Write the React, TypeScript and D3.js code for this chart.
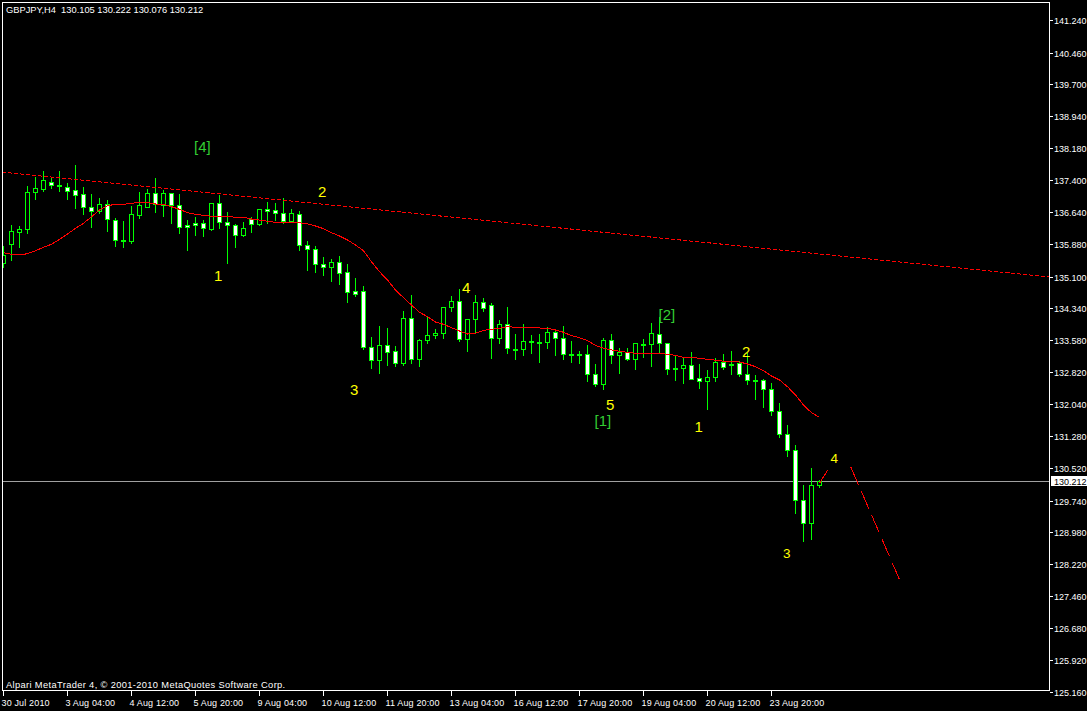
import React from "react";
import * as d3 from "d3";

// ---- Data (GBPJPY H4, bar 0 = 30 Jul 2010 20:00) ----
const opens = [
  135.42, 135.87, 136.17, 136.23, 137.12, 137.20, 137.37, 137.28, 137.25, 137.17,
  137.08, 136.77, 136.68, 136.84, 136.45, 135.98, 135.96, 136.57, 136.77, 137.09,
  136.81, 137.09, 136.81, 136.33, 136.38, 136.38, 136.24, 136.85, 136.41, 136.33,
  136.09, 136.47, 136.35, 136.71, 136.69, 136.62, 136.44, 136.59, 135.85, 135.75,
  135.39, 135.32, 135.44, 135.20, 134.75, 134.75, 133.41, 133.10, 133.46, 133.31,
  133.04, 134.10, 133.12, 133.58, 133.70, 133.74, 134.37, 134.51, 133.60, 134.08,
  134.49, 134.41, 133.62, 133.96, 133.37, 133.36, 133.56, 133.54, 133.53, 133.77,
  133.62, 133.24, 133.24, 133.24, 132.77, 132.52, 133.58, 133.22, 133.30, 133.14,
  133.49, 133.48, 133.72, 133.50, 132.91, 132.92, 132.98, 132.67, 132.59, 132.69,
  133.05, 133.01, 133.03, 132.76, 132.62, 132.62, 132.40, 131.88, 131.33, 130.94,
  129.75, 129.21, 130.105,
];
const highs = [
  135.83, 136.33, 136.31, 137.27, 137.48, 137.63, 137.48, 137.63, 137.33, 137.77,
  137.24, 137.08, 136.97, 136.93, 136.50, 136.43, 136.79, 137.12, 137.20, 137.45,
  137.17, 137.11, 137.07, 136.45, 136.53, 136.45, 136.85, 137.05, 136.64, 136.36,
  136.41, 136.53, 136.71, 136.89, 136.87, 136.98, 136.71, 136.67, 135.95, 135.83,
  135.56, 135.51, 135.59, 135.39, 135.06, 134.88, 133.66, 133.92, 133.87, 133.45,
  134.28, 134.66, 133.60, 134.13, 133.84, 134.37, 134.64, 134.80, 134.08, 134.66,
  134.58, 134.46, 134.06, 134.38, 133.73, 133.97, 133.70, 133.73, 133.89, 133.82,
  133.92, 133.57, 133.32, 133.46, 133.01, 133.62, 133.73, 133.38, 133.38, 133.50,
  133.60, 134.00, 134.13, 133.50, 133.22, 133.18, 133.30, 133.00, 132.87, 133.15,
  133.25, 133.31, 133.07, 133.27, 132.75, 132.64, 132.56, 132.07, 131.54, 131.06,
  130.11, 130.52, 130.222,
];
const lows = [
  135.33, 135.50, 135.80, 136.15, 136.95, 137.16, 137.21, 137.16, 136.95, 136.73,
  136.60, 136.29, 136.62, 136.20, 135.84, 135.80, 135.91, 136.50, 136.77, 136.65,
  136.56, 136.38, 136.14, 135.74, 136.10, 136.06, 136.22, 136.26, 135.43, 135.82,
  136.06, 136.17, 136.34, 136.38, 136.45, 136.39, 136.41, 135.74, 135.25, 135.22,
  135.13, 135.00, 134.92, 134.49, 134.64, 133.37, 132.92, 132.79, 132.99, 132.97,
  132.99, 133.04, 132.97, 133.50, 133.64, 133.64, 134.28, 133.57, 133.33, 133.74,
  134.28, 133.16, 133.52, 133.27, 133.14, 133.22, 133.28, 133.06, 133.39, 133.22,
  133.12, 133.05, 133.03, 132.59, 132.48, 132.42, 133.03, 132.80, 133.10, 132.88,
  133.18, 132.97, 133.27, 132.78, 132.63, 132.56, 132.66, 132.43, 131.94, 132.61,
  132.90, 132.76, 132.71, 132.52, 132.18, 131.99, 131.80, 131.26, 130.81, 129.44,
  128.77, 128.81, 130.076,
];
const closes = [
  135.62, 136.19, 136.23, 137.12, 137.21, 137.40, 137.28, 137.28, 137.16, 137.06,
  136.77, 136.68, 136.83, 136.47, 135.98, 135.98, 136.60, 136.81, 137.09, 136.83,
  137.09, 136.82, 136.28, 136.28, 136.33, 136.26, 136.85, 136.41, 136.34, 136.09,
  136.26, 136.35, 136.71, 136.68, 136.61, 136.44, 136.62, 135.85, 135.75, 135.39,
  135.32, 135.44, 135.18, 134.72, 134.69, 133.41, 133.10, 133.46, 133.30, 133.03,
  134.10, 133.12, 133.58, 133.70, 133.75, 134.37, 134.51, 133.60, 134.08, 134.49,
  134.34, 133.62, 133.96, 133.38, 133.37, 133.56, 133.56, 133.54, 133.77, 133.62,
  133.24, 133.24, 133.24, 132.77, 132.52, 133.58, 133.22, 133.30, 133.14, 133.50,
  133.49, 133.74, 133.50, 132.90, 132.91, 132.98, 132.66, 132.59, 132.69, 133.05,
  132.93, 133.01, 132.76, 132.62, 132.62, 132.40, 131.88, 131.33, 130.94, 129.75,
  129.21, 130.11, 130.212,
];
const maValues = [
  135.672, 135.633, 135.617, 135.648, 135.720, 135.801, 135.873, 135.992, 136.119, 136.256,
  136.375, 136.533, 136.694, 136.796, 136.830, 136.830, 136.854, 136.873, 136.873, 136.837,
  136.830, 136.773, 136.710, 136.629, 136.591, 136.567, 136.543, 136.543, 136.543, 136.519,
  136.519, 136.478, 136.454, 136.423, 136.399, 136.399, 136.399, 136.390, 136.359, 136.311,
  136.246, 136.150, 136.071, 135.976, 135.856, 135.720, 135.456, 135.217, 135.019, 134.779,
  134.595, 134.420, 134.246, 134.140, 134.014, 133.959, 133.877, 133.798, 133.726, 133.743,
  133.815, 133.839, 133.863, 133.901, 133.887, 133.887, 133.887, 133.870, 133.863, 133.822,
  133.767, 133.686, 133.638, 133.566, 133.456, 133.384, 133.344, 133.312, 133.287, 133.265,
  133.265, 133.265, 133.265, 133.241, 133.217, 133.169, 133.169, 133.145, 133.121, 133.099,
  133.076, 133.073, 133.056, 133.009, 132.944, 132.848, 132.721, 132.626, 132.465, 132.267,
  132.027, 131.843, 131.733,
];
const dateLabels = [
  "30 Jul 2010", "3 Aug 04:00", "4 Aug 12:00", "5 Aug 20:00", "9 Aug 04:00",
  "10 Aug 12:00", "11 Aug 20:00", "13 Aug 04:00", "16 Aug 12:00", "17 Aug 20:00",
  "19 Aug 04:00", "20 Aug 12:00", "23 Aug 20:00",
];
const dateLabelBars = [0, 8, 16, 24, 32, 40, 48, 56, 64, 72, 80, 88, 96];
const priceTickLabels = [
  "141.240", "140.460", "139.700", "138.940", "138.180", "137.400", "136.640",
  "135.880", "135.100", "134.340", "133.580", "132.820", "132.040", "131.280",
  "130.520", "129.740", "128.980", "128.220", "127.460", "126.680", "125.920", "125.160",
];
const currentPrice = 130.212;
const currentPriceLabel = "130.212";
const titleText = "GBPJPY,H4  130.105 130.222 130.076 130.212";
const copyrightText = "Alpari MetaTrader 4, \u00a9 2001-2010 MetaQuotes Software Corp.";

// trend line (dotted, extended both ways)
const trendBars = [0, 100];
const trendPrices = [137.596, 135.681];
// projection lines (dashed)
const projABars = [102, 103.03];
const projAPrices = [130.154, 130.472];
const projBBars = [105.93, 111.98];
const projBPrices = [130.537, 127.857];

// wave labels: text, bar position, price (baseline), colour kind
const waveLabels: [string, number, number, string][] = [
  ["[4]", 23.81, 138.08, "g"],
  ["2", 39.31, 137.0, "y"],
  ["1", 26.31, 134.99, "y"],
  ["3", 43.31, 132.27, "y"],
  ["4", 57.31, 134.71, "y"],
  ["5", 75.31, 131.91, "y"],
  ["[1]", 73.88, 131.52, "g"],
  ["[2]", 81.88, 134.06, "g"],
  ["2", 92.31, 133.18, "y"],
  ["1", 86.38, 131.39, "y"],
  ["4", 103.38, 130.65, "y"],
  ["3", 97.44, 128.37, "y"],
];

const W = 1087;
const H = 711;
const FL = 2.5, FT = 2.5, FR = 1049.5, FB = 690.5;
const LIME = "#00ff00";
const FONT = "'Liberation Sans', Arial, sans-serif";

export default function App() {
  const x = d3.scaleLinear().domain([0, 1]).range([3.5, 11.5]);
  const y = d3.scaleLinear().domain([125.16, 141.24]).range([692, 20]);
  const ry = (p: number) => Math.round(y(p));

  const candles = opens.map((o, i) => {
    const c = closes[i];
    const cx = x(i);
    const top = ry(Math.max(o, c));
    let bot = ry(Math.min(o, c));
    if (bot - top < 1) bot = top + 1;
    const wt = ry(highs[i]);
    const wb = ry(lows[i]);
    const bull = c > o;
    return (
      <g key={i}>
        <rect x={cx - 0.5} y={wt} width={1} height={Math.max(1, wb - wt + 1)} fill={LIME} />
        <rect
          x={cx - 2}
          y={top + 0.5}
          width={4}
          height={bot - top}
          fill={bull ? "#000000" : "#ffffff"}
          stroke={LIME}
          strokeWidth={1}
        />
      </g>
    );
  });

  const maPath = d3
    .line<number>()
    .x((_, i) => x(i))
    .y((d) => y(d))(maValues) as string;

  const trendAt = (b: number) =>
    trendPrices[0] + ((trendPrices[1] - trendPrices[0]) * (b - trendBars[0])) / (trendBars[1] - trendBars[0]);
  const tb0 = x.invert(FL);
  const tb1 = x.invert(FR);

  const cpY = ry(currentPrice);

  return (
    <div style={{ width: W, height: H, background: "#000" }}>
      <style>{"body{margin:0;background:#000;}"}</style>
      <svg width={W} height={H} style={{ display: "block", background: "#000" }} fontFamily={FONT}>
        <defs>
          <clipPath id="plotClip">
            <rect x={3} y={3} width={1046} height={687} />
          </clipPath>
        </defs>
        <rect x={0} y={0} width={W} height={H} fill="#000" />

        <g clipPath="url(#plotClip)" shapeRendering="crispEdges">
          {/* current price line */}
          <line x1={FL} x2={FR} y1={cpY + 0.5} y2={cpY + 0.5} stroke="#a0a0a0" strokeWidth={1} />
          {candles}
          <path d={maPath} fill="none" stroke="#ff0000" strokeWidth={1} />
          <line
            x1={x(tb0)}
            y1={y(trendAt(tb0))}
            x2={x(tb1)}
            y2={y(trendAt(tb1))}
            stroke="#ff0000"
            strokeWidth={1}
            strokeDasharray="4,2"
          />
          <line
            x1={x(projABars[0])}
            y1={y(projAPrices[0])}
            x2={x(projABars[1])}
            y2={y(projAPrices[1])}
            stroke="#ff0000"
            strokeWidth={1}
            strokeDasharray="19,7"
          />
          <line
            x1={x(projBBars[0])}
            y1={y(projBPrices[0])}
            x2={x(projBBars[1])}
            y2={y(projBPrices[1])}
            stroke="#ff0000"
            strokeWidth={1}
            strokeDasharray="19,7"
          />
        </g>

        {/* wave labels */}
        {waveLabels.map(([t, b, p, k], i) => (
          <text
            key={"w" + i}
            x={x(b)}
            y={y(p)}
            fontSize={i >= 10 ? 13.5 : 15}
            fill={k === "g" ? "#32cd32" : "#ffff00"}
          >
            {t}
          </text>
        ))}

        {/* frame */}
        <rect
          x={FL}
          y={FT}
          width={FR - FL}
          height={FB - FT}
          fill="none"
          stroke="#ffffff"
          strokeWidth={1}
          shapeRendering="crispEdges"
        />

        {/* price axis */}
        {priceTickLabels.map((lbl) => {
          const yy = ry(parseFloat(lbl)) + 0.5;
          return (
            <g key={lbl}>
              <line x1={1050} x2={1053} y1={yy} y2={yy} stroke="#fff" shapeRendering="crispEdges" />
              <text x={1054} y={yy + 3} fontSize={9} fill="#fff">
                {lbl}
              </text>
            </g>
          );
        })}
        <rect x={1051} y={cpY - 5} width={36} height={10} fill="#ffffff" shapeRendering="crispEdges" />
        <text x={1054} y={cpY + 3.5} fontSize={9} fill="#000">
          {currentPriceLabel}
        </text>

        {/* time axis */}
        {dateLabels.map((lbl, i) => {
          const xx = x(dateLabelBars[i]);
          return (
            <g key={lbl}>
              <line x1={xx} x2={xx} y1={691} y2={696} stroke="#fff" shapeRendering="crispEdges" />
              <text x={xx - 2} y={706} fontSize={9} fill="#fff" letterSpacing={0.15}>
                {lbl}
              </text>
            </g>
          );
        })}

        {/* title and copyright */}
        <text x={6} y={13} fontSize={9.3} fill="#fff" style={{ whiteSpace: "pre" }}>
          {titleText}
        </text>
        <text x={6} y={688} fontSize={9.3} fill="#fff" letterSpacing={0.36}>
          {copyrightText}
        </text>
      </svg>
    </div>
  );
}
